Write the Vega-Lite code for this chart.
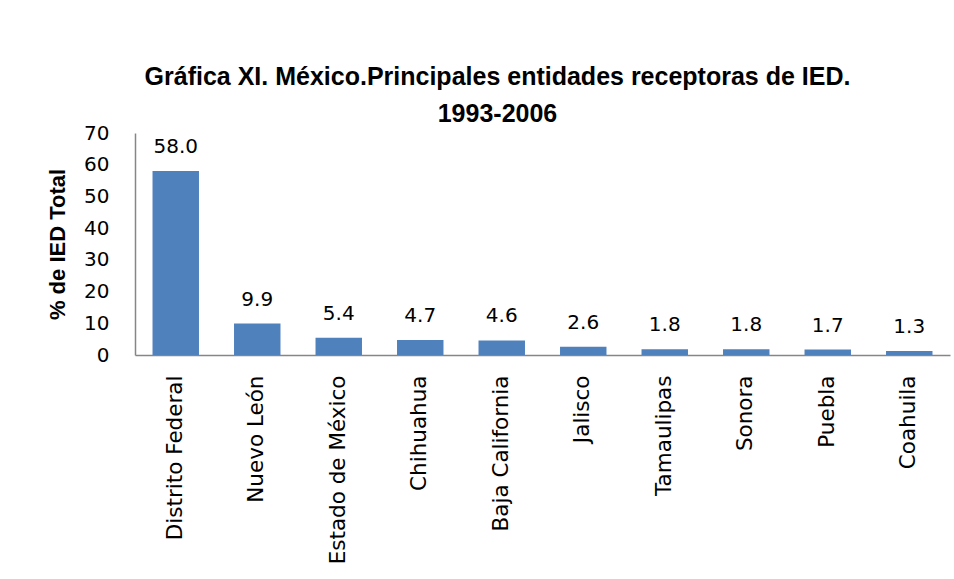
{
  "$schema": "https://vega.github.io/schema/vega-lite/v6.json",
  "width": 815,
  "height": 222,
  "autosize": {"type": "none"},
  "padding": {"left": 135, "top": 133, "right": 4, "bottom": 224},
  "background": "white",
  "title": {
    "text": ["Gráfica XI. México.Principales entidades receptoras de IED.", "1993-2006"],
    "font": "Liberation Sans",
    "fontWeight": "bold",
    "fontSize": 25,
    "lineHeight": 37,
    "color": "black",
    "anchor": "middle",
    "dx": -45,
    "offset": -4
  },
  "data": {
    "values": [
      {"estado": "Distrito Federal", "valor": 58.0},
      {"estado": "Nuevo León", "valor": 9.9},
      {"estado": "Estado de México", "valor": 5.4},
      {"estado": "Chihuahua", "valor": 4.7},
      {"estado": "Baja California", "valor": 4.6},
      {"estado": "Jalisco", "valor": 2.6},
      {"estado": "Tamaulipas", "valor": 1.8},
      {"estado": "Sonora", "valor": 1.8},
      {"estado": "Puebla", "valor": 1.7},
      {"estado": "Coahuila", "valor": 1.3}
    ]
  },
  "encoding": {
    "x": {
      "field": "estado",
      "type": "nominal",
      "sort": null,
      "scale": {"paddingInner": 0.43, "paddingOuter": 0.215},
      "axis": {
        "title": null,
        "labelAngle": -90,
        "labelAlign": "right",
        "labelBaseline": "middle",
        "labelFont": "DejaVu Sans",
        "labelFontSize": 21.5,
        "labelColor": "black",
        "labelPadding": 20,
        "labelLimit": 300,
        "ticks": false,
        "domainColor": "#868686",
        "domainWidth": 1.5,
        "grid": false
      }
    },
    "y": {
      "field": "valor",
      "type": "quantitative",
      "scale": {"domain": [0, 70], "nice": false},
      "axis": {
        "title": "% de IED Total",
        "titleFont": "Liberation Sans",
        "titleFontWeight": "bold",
        "titleFontSize": 22,
        "titleColor": "black",
        "titlePadding": 14,
        "values": [0, 10, 20, 30, 40, 50, 60, 70],
        "labelFont": "DejaVu Sans",
        "labelFontSize": 20,
        "labelColor": "black",
        "labelPadding": 26,
        "ticks": false,
        "domainColor": "#868686",
        "domainWidth": 1.5,
        "grid": false
      }
    }
  },
  "layer": [
    {"mark": {"type": "bar", "color": "#4F81BD"}},
    {
      "mark": {"type": "text", "baseline": "bottom", "dy": -14, "font": "DejaVu Sans", "fontSize": 20, "color": "black"},
      "encoding": {"text": {"field": "valor", "type": "quantitative", "format": ".1f"}}
    }
  ],
  "config": {"view": {"stroke": null}}
}
